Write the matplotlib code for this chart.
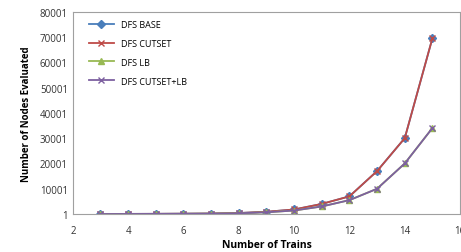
import matplotlib.pyplot as plt

trains = [3, 4, 5, 6, 7, 8, 9, 10, 11, 12, 13, 14, 15]
dfs_base = [30, 60, 90, 130, 200, 400, 900, 1800, 4000, 7000, 17000, 30000, 69500]
dfs_cutset = [30, 60, 90, 130, 200, 400, 900, 1800, 4000, 7000, 17000, 30000, 69500]
dfs_lb = [20, 40, 60, 100, 150, 300, 700, 1400, 3000, 5500, 10000, 20000, 34000]
dfs_cutset_lb = [20, 40, 60, 100, 150, 300, 700, 1400, 3000, 5500, 10000, 20000, 34000]

plt.rcParams['font.family'] = ['Open Sans', 'DejaVu Sans']

fig = plt.figure(figsize=(4.61, 2.53), dpi=100)
ax = fig.add_axes([0.158, 0.15, 0.84, 0.80])

ax.plot(trains, dfs_base, color='#4A7EBB', marker='D', markersize=4, lw=1.3, label='DFS BASE')
ax.plot(trains, dfs_cutset, color='#BE4B48', marker='x', markersize=4, lw=1.3, label='DFS CUTSET')
ax.plot(trains, dfs_lb, color='#98B954', marker='^', markersize=5, lw=1.3, label='DFS LB')
ax.plot(trains, dfs_cutset_lb, color='#7D60A0', marker='x', markersize=4, lw=1.3, label='DFS CUTSET+LB')

ax.set_xlim(2, 16)
ax.set_ylim(1, 80001)
ax.set_xticks(range(2, 17, 2))
ax.set_yticks(range(1, 80002, 10000))
ax.tick_params(labelsize=7, length=0, colors='#333333')
ax.tick_params(axis='x', pad=8)
for s in ax.spines.values():
    s.set_color('#A0A0A0')
    s.set_linewidth(0.8)

ax.set_xlabel('Number of Trains', fontsize=7.5, fontweight='bold', labelpad=2)
ax.set_ylabel('Number of Nodes Evaluated', fontsize=7, fontweight='bold', labelpad=6)

ax.legend(loc='upper left', frameon=False, fontsize=6.5, handlelength=2.8,
          labelspacing=1.1, bbox_to_anchor=(0.02, 1.0))

fig.savefig('out.png', dpi=100)
